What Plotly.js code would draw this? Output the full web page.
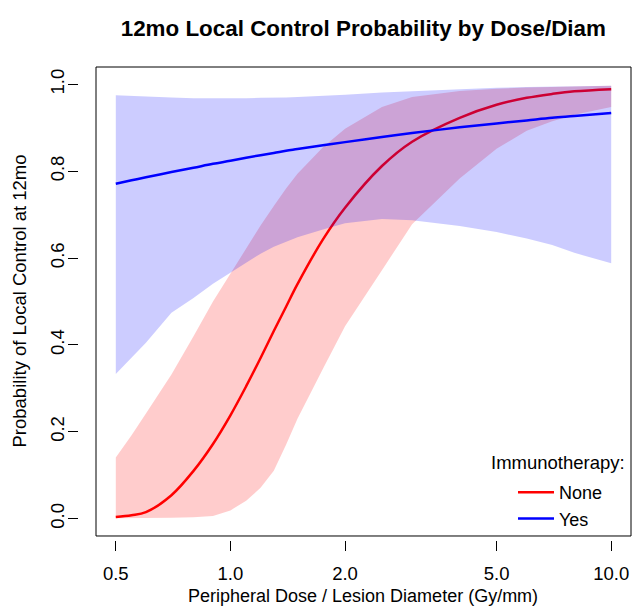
<!DOCTYPE html>
<html>
<head>
<meta charset="utf-8">
<script src="https://cdn.plot.ly/plotly-3.0.1.min.js"></script>
<style>html,body{margin:0;padding:0;background:#fff;}#chart{width:633px;height:607px;}</style>
</head>
<body>
<div id="chart"></div>
<script>
// Dose/diameter grid (Gy/mm)
const dose = [0.5, 0.55, 0.6, 0.7, 0.8, 0.9, 1.0, 1.1, 1.2, 1.3, 1.4, 1.5, 1.75, 2.0, 2.5, 3.0, 4.0, 5.0, 6.0, 7.0, 8.0, 10.0];
// Immunotherapy: None
const noneFit  = [0.004, 0.008, 0.015, 0.054, 0.110, 0.172, 0.238, 0.305, 0.370, 0.432, 0.488, 0.540, 0.643, 0.716, 0.812, 0.868, 0.923, 0.953, 0.969, 0.978, 0.984, 0.989];
const noneLow  = [0.001, 0.001, 0.001, 0.002, 0.003, 0.006, 0.019, 0.041, 0.071, 0.110, 0.170, 0.230, 0.345, 0.443, 0.572, 0.678, 0.783, 0.852, 0.893, 0.915, 0.930, 0.948];
const noneUp   = [0.141, 0.192, 0.242, 0.332, 0.420, 0.500, 0.563, 0.622, 0.675, 0.720, 0.760, 0.794, 0.855, 0.898, 0.948, 0.971, 0.985, 0.990, 0.993, 0.995, 0.996, 0.997];
// Immunotherapy: Yes
const yesFit   = [0.771, 0.779, 0.786, 0.798, 0.808, 0.817, 0.824, 0.831, 0.837, 0.842, 0.847, 0.851, 0.860, 0.867, 0.879, 0.888, 0.901, 0.910, 0.917, 0.923, 0.927, 0.934];
const yesLow   = [0.333, 0.370, 0.405, 0.474, 0.508, 0.541, 0.566, 0.590, 0.610, 0.626, 0.637, 0.648, 0.666, 0.680, 0.690, 0.687, 0.674, 0.660, 0.645, 0.630, 0.612, 0.588];
const yesUp    = [0.975, 0.973, 0.972, 0.970, 0.968, 0.968, 0.968, 0.968, 0.969, 0.970, 0.970, 0.971, 0.973, 0.976, 0.981, 0.985, 0.989, 0.992, 0.994, 0.995, 0.996, 0.997];
// Axis ticks
const xTickVals = [0.5, 1, 2, 5, 10];
const xTickText = ['0.5', '1.0', '2.0', '5.0', '10.0'];
const yTickVals = [0, 0.2, 0.4, 0.6, 0.8, 1.0];
const yTickText = ['0.0', '0.2', '0.4', '0.6', '0.8', '1.0'];

const FONT = 'Liberation Sans, Arial, Helvetica, sans-serif';

function band(lo, hi) {
  return {
    x: dose.concat(dose.slice().reverse()),
    y: lo.concat(hi.slice().reverse())
  };
}
const bNone = band(noneLow, noneUp);
const bYes = band(yesLow, yesUp);

const traces = [
  {x: bNone.x, y: bNone.y, type: 'scatter', mode: 'lines', fill: 'toself',
   fillcolor: 'rgba(255,0,0,0.2)', line: {width: 0, color: 'rgba(0,0,0,0)'},
   showlegend: false, hoverinfo: 'skip'},
  {x: dose, y: noneFit, type: 'scatter', mode: 'lines', name: 'None',
   line: {color: '#FF0000', width: 2.5, shape: 'spline'}},
  {x: bYes.x, y: bYes.y, type: 'scatter', mode: 'lines', fill: 'toself',
   fillcolor: 'rgba(0,0,255,0.2)', line: {width: 0, color: 'rgba(0,0,0,0)'},
   showlegend: false, hoverinfo: 'skip'},
  {x: dose, y: yesFit, type: 'scatter', mode: 'lines', name: 'Yes',
   line: {color: '#0000FF', width: 2.5, shape: 'spline'}}
];

const layout = {
  width: 633, height: 607,
  margin: {l: 78, r: 2, t: 67, b: 67, pad: 0},
  paper_bgcolor: '#fff', plot_bgcolor: '#fff',
  font: {family: FONT, size: 18.5, color: '#000'},
  title: {text: '12mo Local Control Probability by Dose/Diam',
          font: {family: FONT, size: 22.4, weight: 'bold', color: '#000'},
          xref: 'paper', x: 0.516, xanchor: 'center',
          yref: 'container', y: 1 - 28 / 607, yanchor: 'middle'},
  xaxis: {type: 'log', domain: [0.03255, 1], range: [-0.353, 1.052],
          anchor: 'free', position: 0,
          showline: false, showgrid: false, zeroline: false,
          ticks: 'outside', ticklen: 10, tickwidth: 1, tickcolor: '#000',
          tickvals: xTickVals, ticktext: xTickText, ticklabelstandoff: 7,
          tickfont: {family: FONT, size: 18.5, color: '#000'}},
  yaxis: {domain: [0.00846, 1], range: [-0.04, 1.04],
          anchor: 'free', position: 0,
          showline: false, showgrid: false, zeroline: false,
          ticks: 'outside', ticklen: 10, tickwidth: 1, tickcolor: '#000',
          tickvals: yTickVals, ticktext: yTickText, tickangle: -90, ticklabelstandoff: -3,
          tickfont: {family: FONT, size: 18.5, color: '#000'}},
  shapes: [{type: 'rect', xref: 'x domain', yref: 'y domain', x0: 0, x1: 1, y0: 0, y1: 1,
            line: {color: '#000', width: 1}, fillcolor: 'rgba(0,0,0,0)', layer: 'above'}],
  annotations: [
    {text: 'Peripheral Dose / Lesion Diameter (Gy/mm)', xref: 'paper', yref: 'paper',
     x: 0.516, y: (540 - 596) / 473, xanchor: 'center', yanchor: 'middle', showarrow: false,
     font: {family: FONT, size: 18, color: '#000'}},
    {text: 'Probability of Local Control at 12mo', xref: 'paper', yref: 'paper',
     x: (19 - 78) / 553, y: (540 - 301.5) / 473, xanchor: 'center', yanchor: 'middle',
     textangle: -90, showarrow: false, font: {family: FONT, size: 18.5, color: '#000'}},
    {text: 'Immunotherapy:', xref: 'paper', yref: 'paper',
     x: (627 - 78) / 553, y: (540 - 463) / 473, xanchor: 'right', yanchor: 'middle',
     showarrow: false, font: {family: FONT, size: 18.5, color: '#000'}}
  ],
  legend: {x: (513 - 78) / 553, y: (540 - 474) / 473, xanchor: 'left', yanchor: 'top',
           bgcolor: 'rgba(0,0,0,0)', borderwidth: 0, itemwidth: 36,
           font: {family: FONT, size: 18, color: '#000'}, tracegroupgap: 0},
  showlegend: true
};

Plotly.newPlot('chart', traces, layout, {staticPlot: true, displayModeBar: false});
</script>
</body>
</html>
